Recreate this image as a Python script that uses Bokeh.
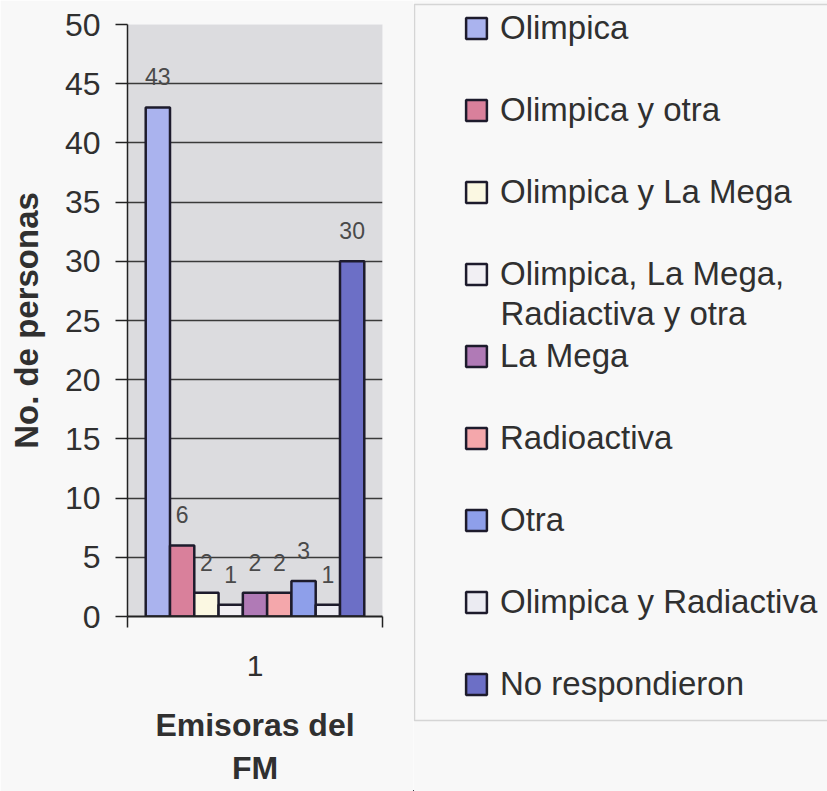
from bokeh.plotting import figure
from bokeh.layouts import row, column
from bokeh.models import (ColumnDataSource, FixedTicker, Legend, LegendItem,
                          LabelSet, Label, BoxAnnotation)
from bokeh.core.properties import value
from bokeh.embed import file_html
from bokeh.resources import INLINE

# ---- data ----
series = ["Olimpica", "Olimpica y otra", "Olimpica y La Mega",
          "Olimpica, La Mega, Radiactiva y otra", "La Mega", "Radioactiva",
          "Otra", "Olimpica y Radiactiva", "No respondieron"]
values = [43, 6, 2, 1, 2, 2, 3, 1, 30]
colors = ["#aab3ee", "#d9809b", "#fbf8e2", "#f1eff3", "#b07ab6", "#f4a7ab",
          "#8e9fea", "#ebebf2", "#6c6fc6"]
legend_lines = [["Olimpica"], ["Olimpica y otra"], ["Olimpica y La Mega"],
                ["Olimpica, La Mega,", "Radiactiva y otra"], ["La Mega"],
                ["Radioactiva"], ["Otra"], ["Olimpica y Radiactiva"],
                ["No respondieron"]]
category_labels = ["1"]
y_ticks = [0, 5, 10, 15, 20, 25, 30, 35, 40, 45, 50]
y_title = "No. de personas"
x_title = "Emisoras del\nFM"

FONT = "Liberation Sans"
TXT = "#303030"
OUTLINE = "#1d1b2c"
PAGE = "#f8f8f8"

n = len(values)
pad = 0.75
H = 791
p = figure(width=413, height=H, output_backend="svg", toolbar_location=None,
           x_range=(-0.5 - pad, n - 0.5 + pad), y_range=(y_ticks[0], y_ticks[-1]),
           min_border_left=127, min_border_right=31, min_border_top=24,
           min_border_bottom=175)
p.background_fill_color = "#dcdcdf"
p.border_fill_color = PAGE
p.outline_line_color = None

for i, (v, c) in enumerate(zip(values, colors)):
    src = ColumnDataSource(dict(x=[i], top=[v]))
    p.vbar(x="x", top="top", width=1.0, source=src, fill_color=c,
           line_color=OUTLINE, line_width=2.5)

lab_src = ColumnDataSource(dict(x=list(range(n)), y=values,
                                t=[str(v) for v in values]))
p.add_layout(LabelSet(x="x", y="y", text="t", source=lab_src, y_offset=22,
                      text_align="center", text_baseline="alphabetic",
                      text_font=value(FONT), text_font_size=value("23px"),
                      text_color="#4a4a4a"))

# axes
xa = p.xaxis[0]
xa.ticker = FixedTicker(ticks=[(n - 1) / 2], minor_ticks=[-0.5 - pad, n - 0.5 + pad])
xa.major_label_overrides = {(n - 1) / 2: category_labels[0]}
xa.major_tick_out = 0
xa.major_tick_in = 0
xa.minor_tick_out = 11
xa.minor_tick_in = 0
xa.minor_tick_line_color = "#222222"
xa.minor_tick_line_width = 1.5
xa.axis_line_color = "#222222"
xa.axis_line_width = 2
xa.major_label_standoff = 28
xa.major_label_text_font = FONT
xa.major_label_text_font_size = "30px"
xa.major_label_text_color = TXT
xa.axis_label = x_title
xa.axis_label_text_font = FONT
xa.axis_label_text_font_size = "32px"
xa.axis_label_text_font_style = "bold"
xa.axis_label_text_color = TXT
xa.axis_label_standoff = 28

ya = p.yaxis[0]
ya.ticker = FixedTicker(ticks=y_ticks)
ya.minor_tick_line_color = None
ya.major_tick_out = 12
ya.major_tick_in = 0
ya.major_tick_line_color = "#222222"
ya.major_tick_line_width = 1.5
ya.axis_line_color = "#222222"
ya.axis_line_width = 1.5
ya.major_label_standoff = 15
ya.major_label_text_font = FONT
ya.major_label_text_font_size = "32px"
ya.major_label_text_color = TXT
ya.axis_label = y_title
ya.axis_label_text_font = FONT
ya.axis_label_text_font_size = "33px"
ya.axis_label_text_font_style = "bold"
ya.axis_label_text_color = TXT
ya.axis_label_standoff = 17

p.xgrid.grid_line_color = None
p.ygrid.ticker = FixedTicker(ticks=y_ticks)
p.ygrid.grid_line_color = "#3a3a3a"
p.ygrid.grid_line_width = 1.3

# ---- legend panel ----
lg = figure(width=414, height=H, output_backend="svg", toolbar_location=None,
            x_range=(0, 1), y_range=(0, 1), x_axis_type=None, y_axis_type=None,
            min_border=0)
lg.background_fill_color = PAGE
lg.border_fill_color = PAGE
lg.outline_line_color = None
lg.grid.visible = False

# legend frame (right side runs past the window edge)
lg.add_layout(BoxAnnotation(left=1, right=600, bottom=H - 720, top=H - 4,
                            left_units="screen", right_units="screen",
                            bottom_units="screen", top_units="screen",
                            fill_alpha=0, line_color="#858585", line_width=1.5))

items = []
for lines, c in zip(legend_lines, colors):
    # legend-only swatch renderer, kept outside the visible range
    r = lg.vbar(x=[-10], top=[0], width=1.0, fill_color=c, line_color=OUTLINE,
                line_width=2.5)
    items.append(LegendItem(label=lines[0], renderers=[r]))

GX, GW, STAND = 50, 26, 11
legend = Legend(items=items, location=(GX, H - 704), orientation="vertical",
                glyph_width=GW, glyph_height=GW, label_standoff=STAND,
                label_height=40, spacing=42, padding=0, margin=0,
                border_line_alpha=0, background_fill_alpha=0,
                label_text_font=FONT, label_text_font_size="33px",
                label_text_color=TXT)
lg.add_layout(legend, "center")

# continuation line of the two-line legend entry
for k, lines in enumerate(legend_lines):
    for j, extra in enumerate(lines[1:], start=1):
        lg.add_layout(Label(x=GX + GW + STAND, y=H - (28 + 82 * k + 39 * j),
                            x_units="screen", y_units="screen", text=extra,
                            text_baseline="middle", text_font=FONT,
                            text_font_size="33px", text_color=TXT))

layout = row(column(p), column(lg), spacing=0)
open("out.html", "w").write(file_html(layout, INLINE))
